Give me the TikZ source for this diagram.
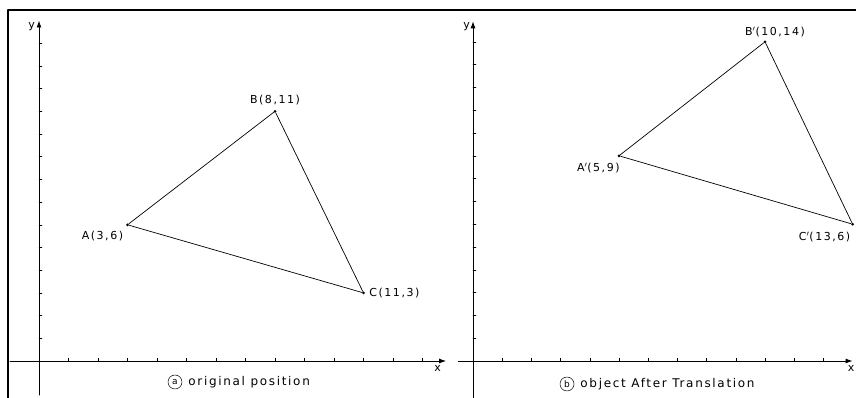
\documentclass[tikz,border=0pt]{standalone}
\usepackage{fontspec}
\newfontfamily\hand[LetterSpace=14]{DejaVu Sans}
\usetikzlibrary{arrows.meta,positioning}

\tikzset{
  axis/.style={line width=0.9pt, -{Latex[length=7pt,width=5pt]}},
  edge/.style={line width=0.7pt},
  tick/.style={line width=0.5pt},
  vertex/.style={circle, fill, inner sep=0pt, minimum size=3pt},
  coordlabel/.style={font=\hand\fontsize{11}{13}\selectfont, inner sep=1pt},
  axislabel/.style={font=\hand\fontsize{11}{13}\selectfont, inner sep=1pt},
  caption/.style={font=\hand\fontsize{12}{14}\selectfont, inner sep=1pt},
  circmark/.style={draw, circle, line width=0.5pt, inner sep=0pt, minimum size=14pt,
                   font=\hand\fontsize{9}{10}\selectfont},
}

\begin{document}
\begin{tikzpicture}[x=1pt, y=1pt, line cap=round, line join=round]
  \useasboundingbox (0,0) rectangle (856,398);
  % the frame and the fold
  \draw[line width=1.6pt] (8,0) -- (8,388) -- (856,388);

  % (a) original position
  \begin{scope}[shift={(39,37)}, x=29.5pt, y=22.7pt]
    \draw[axis] (-0.98,0) -- (13.8,0) coordinate (xa);
    \draw[axis] (0,-1.5) -- (0,15) coordinate (ya);
    \foreach \i in {1,...,13} \draw[tick] (\i,0) -- (\i,0.12);
    \foreach \j in {1,...,14} \draw[tick] (0,\j) -- (0.1,\j);
    \node[axislabel, below left=3pt and 4pt of xa] (xlaba) {x};
    \node[axislabel, below left=1pt and 3pt of ya] (ylaba) {y};
    \node[vertex] (A) at (3,6) {};
    \node[vertex] (B) at (8,11) {};
    \node[vertex] (C) at (11,3) {};
    \draw[edge] (A) -- (B) -- (C) -- (A);
    \node[coordlabel, below left=4pt and 2pt of A] (Alab) {A(3,6)};
    \node[coordlabel, above=3pt of B] (Blab) {B(8,11)};
    \node[coordlabel, right=3pt of C] (Clab) {C(11,3)};
  \end{scope}

  % (b) after the translation
  \begin{scope}[shift={(473,37)}, x=29.2pt, y=22.8pt]
    \draw[axis] (-0.5,0) -- (13,0) coordinate (xb);
    \draw[axis] (0,-1.7) -- (0,14.9) coordinate (yb);
    \foreach \i in {1,...,12} \draw[tick] (\i,0) -- (\i,0.12);
    \foreach \j in {1,...,14} \draw[tick] (0,\j) -- (0.1,\j);
    \node[axislabel, below left=3pt and -3pt of xb] (xlabb) {x};
    \node[axislabel, below left=0pt and 2pt of yb] (ylabb) {y};
    \node[vertex] (Ap) at (5,9) {};
    \node[vertex] (Bp) at (10,14) {};
    \node[vertex] (Cp) at (13,6) {};
    \draw[edge] (Ap) -- (Bp) -- (Cp) -- (Ap);
    \node[coordlabel, below left=5pt and -3pt of Ap] (Aplab) {A$'$(5,9)};
    \node[coordlabel, above=2pt of Bp, xshift=10pt] (Bplab) {B$'$(10,14)};
    \node[coordlabel, below left=5pt and 0pt of Cp] (Cplab) {C$'$(13,6)};
  \end{scope}

  % the captions
  \node[circmark] (capa) at (175,16) {a};
  \node[caption, right=5pt of capa] (capatext) {original position};
  \node[circmark] (capb) at (567,14) {b};
  \node[caption, right=5pt of capb] (capbtext) {object After Translation};
\end{tikzpicture}
\end{document}
